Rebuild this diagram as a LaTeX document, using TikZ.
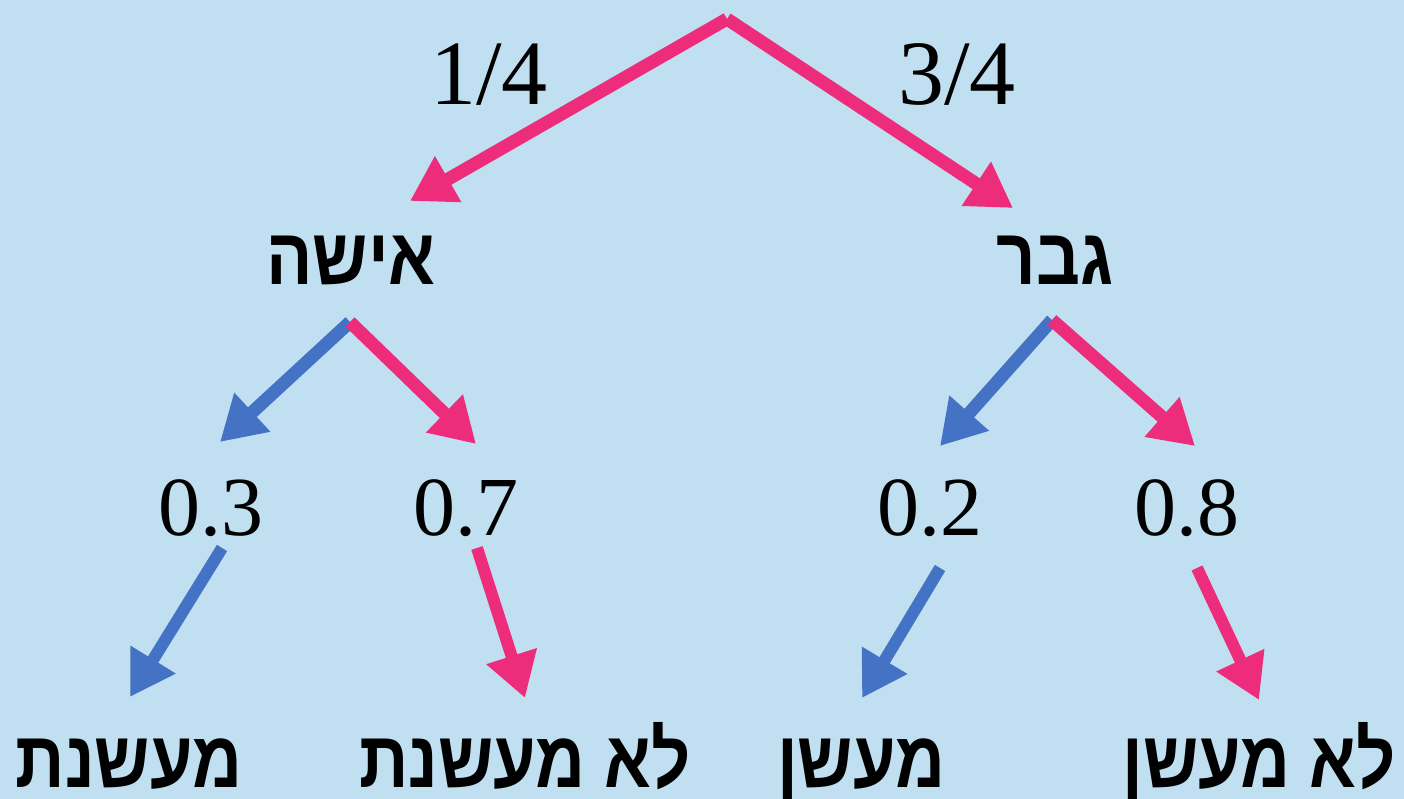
\documentclass[tikz,border=0pt]{standalone}
\usepackage{fontspec}
\usetikzlibrary{arrows.meta}
\newfontfamily\hebfont[Script=Hebrew, FakeStretch=0.86]{Liberation Sans}
\newfontfamily\numfont{Liberation Serif}
\TeXXeTstate=1
\definecolor{bg}{HTML}{C0DFF0}
\definecolor{pinkc}{HTML}{EE2C7C}
\definecolor{bluec}{HTML}{4472C4}
\begin{document}
\begin{tikzpicture}[x=1pt,y=-1pt,
  parr/.style={draw=pinkc, fill=pinkc, line width=13pt, -{Triangle[width=50pt,length=44pt]}},
  barr/.style={draw=bluec, fill=bluec, line width=13pt, -{Triangle[width=50pt,length=44pt]}},
  parrs/.style={parr, line width=12pt},
  barrs/.style={barr, line width=12pt},
  num/.style={font=\numfont\fontsize{84}{90}\selectfont, inner sep=0, anchor=base},
  frac/.style={num, font=\numfont\fontsize{92}{96}\selectfont},
  heb/.style={font=\hebfont\bfseries\fontsize{80}{84}\selectfont, inner sep=0, anchor=base}]
\fill[bg] (0,0) rectangle (1404,799);
\useasboundingbox (0,0) rectangle (1404,799);

% labels
\node[frac] (q1) at (489,105) {1/4};
\node[frac] (q3) at (957,105) {3/4};
\node[heb] (w) at (351,285) {\beginR אישה\endR};
\node[heb] (m) at (1055,285) {\beginR גבר\endR};
\node[num] (w3) at (211,535) {0.3};
\node[num] (w7) at (466,535) {0.7};
\node[num] (m2) at (930,535) {0.2};
\node[num] (m8) at (1187,535) {0.8};
\node[heb] (ws) at (129,787) {\beginR מעשנת\endR};
\node[heb] (wn) at (525,787) {\beginR לא מעשנת\endR};
\node[heb] (ms) at (861,787) {\beginR מעשן\endR};
\node[heb] (mn) at (1259,787) {\beginR לא מעשן\endR};

% connector points
\coordinate (top) at (727,19);
\coordinate (wIn) at (410,201);
\coordinate (mIn) at (1013,208);
\coordinate (wOut) at (350,322);
\coordinate (mOut) at (1052,320);
\coordinate (w3In) at (220,442);
\coordinate (w7In) at (476,444);
\coordinate (m2In) at (940,446);
\coordinate (m8In) at (1195,446);
\coordinate (w3Out) at (222,548);
\coordinate (w7Out) at (477,548);
\coordinate (m2Out) at (940,568);
\coordinate (m8Out) at (1197,568);
\coordinate (wsIn) at (130,697);
\coordinate (wnIn) at (525,698);
\coordinate (msIn) at (862,698);
\coordinate (mnIn) at (1259,700);

\draw[parr] (top) -- (wIn);
\draw[parr] (top) -- (mIn);
\draw[barr] (wOut) -- (w3In);
\draw[parr] (wOut) -- (w7In);
\draw[barr] (mOut) -- (m2In);
\draw[parr] (mOut) -- (m8In);
\draw[barrs] (w3Out) -- (wsIn);
\draw[parrs] (w7Out) -- (wnIn);
\draw[barrs] (m2Out) -- (msIn);
\draw[parrs] (m8Out) -- (mnIn);
\end{tikzpicture}
\end{document}
